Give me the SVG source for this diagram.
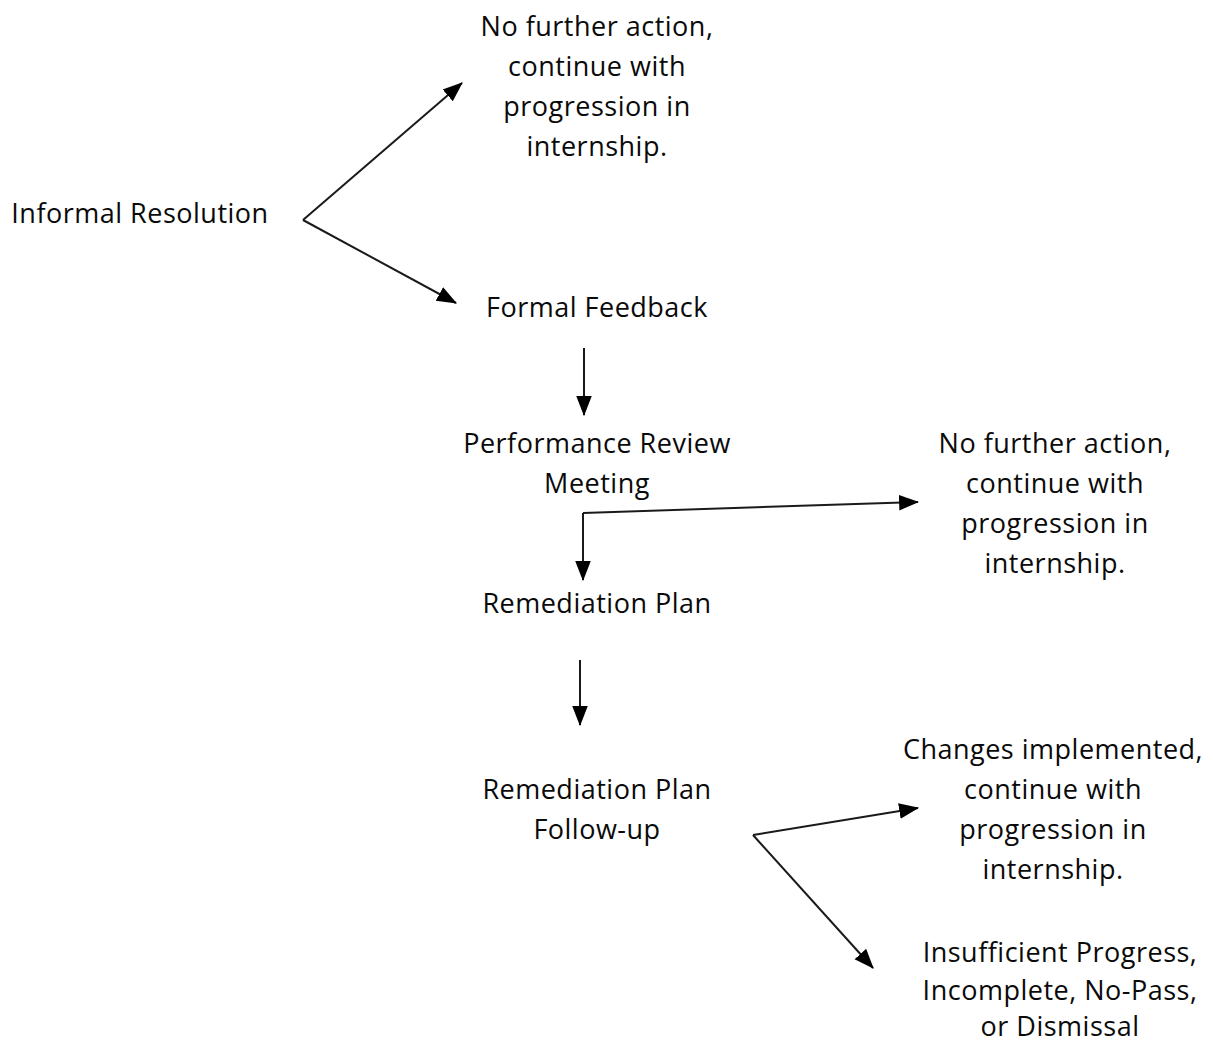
<svg xmlns="http://www.w3.org/2000/svg" width="1213" height="1046" viewBox="0 0 1213 1046">
<defs>
<marker id="ah" markerWidth="20" markerHeight="20" refX="17" refY="7" orient="auto" markerUnits="userSpaceOnUse" viewBox="0 0 18 14">
<path d="M0,0 L18,7 L0,14 Z" fill="#000"/>
</marker>
<style>
text{font-family:"Open Sans","Noto Sans",sans-serif;font-size:27px;letter-spacing:0.5px;fill:#0a0a0a;text-anchor:middle}
.c{fill:none;stroke:#1a1a1a;stroke-width:2;marker-end:url(#ah)}
</style>
</defs>
<rect width="1213" height="1046" fill="#fff"/>
<g id="connectors">
<path class="c" d="M303,220 L462,83"/>
<path class="c" d="M303,220 L456,303"/>
<path class="c" d="M584,348 L584,415"/>
<path class="c" d="M583,513 L583,580"/>
<path class="c" d="M583,513 L918,502"/>
<path class="c" d="M580,660 L580,725"/>
<path class="c" d="M753,835 L918,808"/>
<path class="c" d="M753,835 L873,968"/>
</g>
<g id="n1"><text x="597" y="36">No further action,</text><text x="597" y="76">continue with</text><text x="597" y="116">progression in</text><text x="597" y="156">internship.</text></g>
<g id="n2"><text x="140" y="223">Informal Resolution</text></g>
<g id="n3"><text x="597" y="317">Formal Feedback</text></g>
<g id="n4"><text x="597" y="453">Performance Review</text><text x="597" y="493">Meeting</text></g>
<g id="n5"><text x="1055" y="453">No further action,</text><text x="1055" y="493">continue with</text><text x="1055" y="533">progression in</text><text x="1055" y="573">internship.</text></g>
<g id="n6"><text x="597" y="613">Remediation Plan</text></g>
<g id="n7"><text x="597" y="799">Remediation Plan</text><text x="597" y="839">Follow-up</text></g>
<g id="n8"><text x="1053" y="759">Changes implemented,</text><text x="1053" y="799">continue with</text><text x="1053" y="839">progression in</text><text x="1053" y="879">internship.</text></g>
<g id="n9"><text x="1060" y="962">Insufficient Progress,</text><text x="1060" y="1000">Incomplete, No-Pass,</text><text x="1060" y="1036">or Dismissal</text></g>
</svg>
